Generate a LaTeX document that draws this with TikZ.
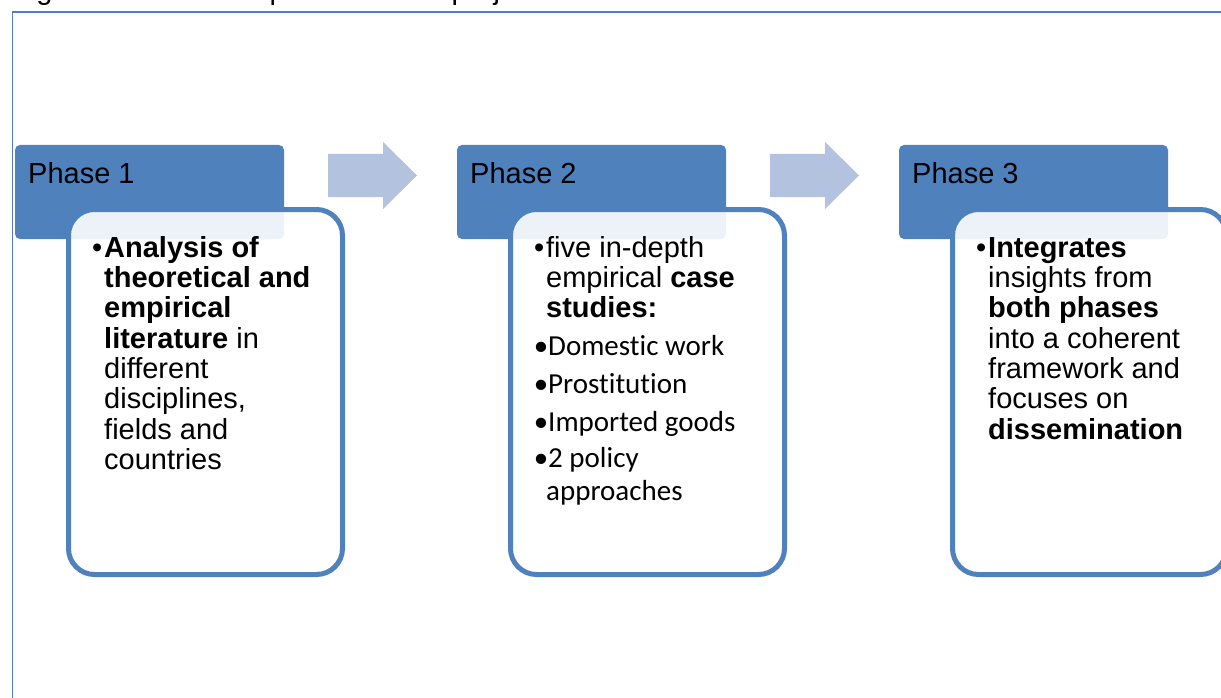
\documentclass[tikz,border=0pt]{standalone}
\usepackage{fontspec}
\setmainfont{Liberation Sans}[Ligatures=NoCommon]
\newfontfamily\calibri{Carlito}[Ligatures=NoCommon]
\definecolor{phaseblue}{HTML}{4F81BD}
\definecolor{arrowblue}{HTML}{B3C2DF}
\tikzset{
    header/.style={fill=phaseblue, rounded corners=5pt, minimum width=269pt, minimum height=94pt,
        inner sep=0pt, outer sep=0pt, anchor=north west},
    card/.style={draw=phaseblue, line width=5pt, fill=white, fill opacity=0.9, rounded corners=26pt,
        minimum width=274pt, minimum height=365pt, inner sep=0pt, outer sep=0pt, anchor=north west},
    phase/.style={font={\fontsize{29}{30.3}\selectfont}, inner sep=0pt, anchor=base west},
    body/.style={font={\fontsize{29}{30.3}\selectfont}, align=left, inner sep=0pt, anchor=north west},
}
\begin{document}
\begin{tikzpicture}[x=1pt, y=-1pt]
    \useasboundingbox (0,0) rectangle (1221,698);
    \node[phase] (caption) at (12,-0.5) {Figure 1: Research phases of the project};
    \draw[phaseblue, line width=1.5pt] (12.5,698) -- (12.5,12) -- (1230,12);

    \foreach \i/\x in {1/15, 2/457, 3/899} {
        \node[header] (h\i) at (\x,145) {};
        \node[phase] (p\i) at (\x+13,183) {Phase \i};
        \node[card] (c\i) at (\x+53.5,209.5) {};
    }
    \foreach \d in {0, 442} {
        \fill[arrowblue] (328+\d,154) -- (383+\d,154) -- (383+\d,142) -- (417+\d,175.5)
            -- (383+\d,209) -- (383+\d,197) -- (328+\d,197) -- cycle;
    }

    \node[body] (t1) at (104,235.8) {\strut\llap{•\hspace{2pt}}\textbf{Analysis of}\\
        \textbf{theoretical and}\\\textbf{empirical}\\\textbf{literature} in\\
        different\\disciplines,\\fields and\\countries};
    \node[body] (t2) at (546,235.8) {\strut\llap{•\hspace{2pt}}five in-depth\\
        empirical \textbf{case}\\\textbf{studies:}\\[7.7pt]
        {\calibri\hspace*{2pt}\llap{•}Domestic work}\\[7.7pt]
        {\calibri\hspace*{2pt}\llap{•}Prostitution}\\[7.7pt]
        {\calibri\hspace*{2pt}\llap{•}Imported goods}\\[5.7pt]
        {\calibri\hspace*{2pt}\llap{•}2 policy}\\[2.7pt]
        {\calibri approaches}};
    \node[body] (t3) at (988,235.8) {\strut\llap{•\hspace{2pt}}\textbf{Integrates}\\
        insights from\\\textbf{both phases}\\into a coherent\\framework and\\
        focuses on\\\textbf{dissemination}};
\end{tikzpicture}
\end{document}
